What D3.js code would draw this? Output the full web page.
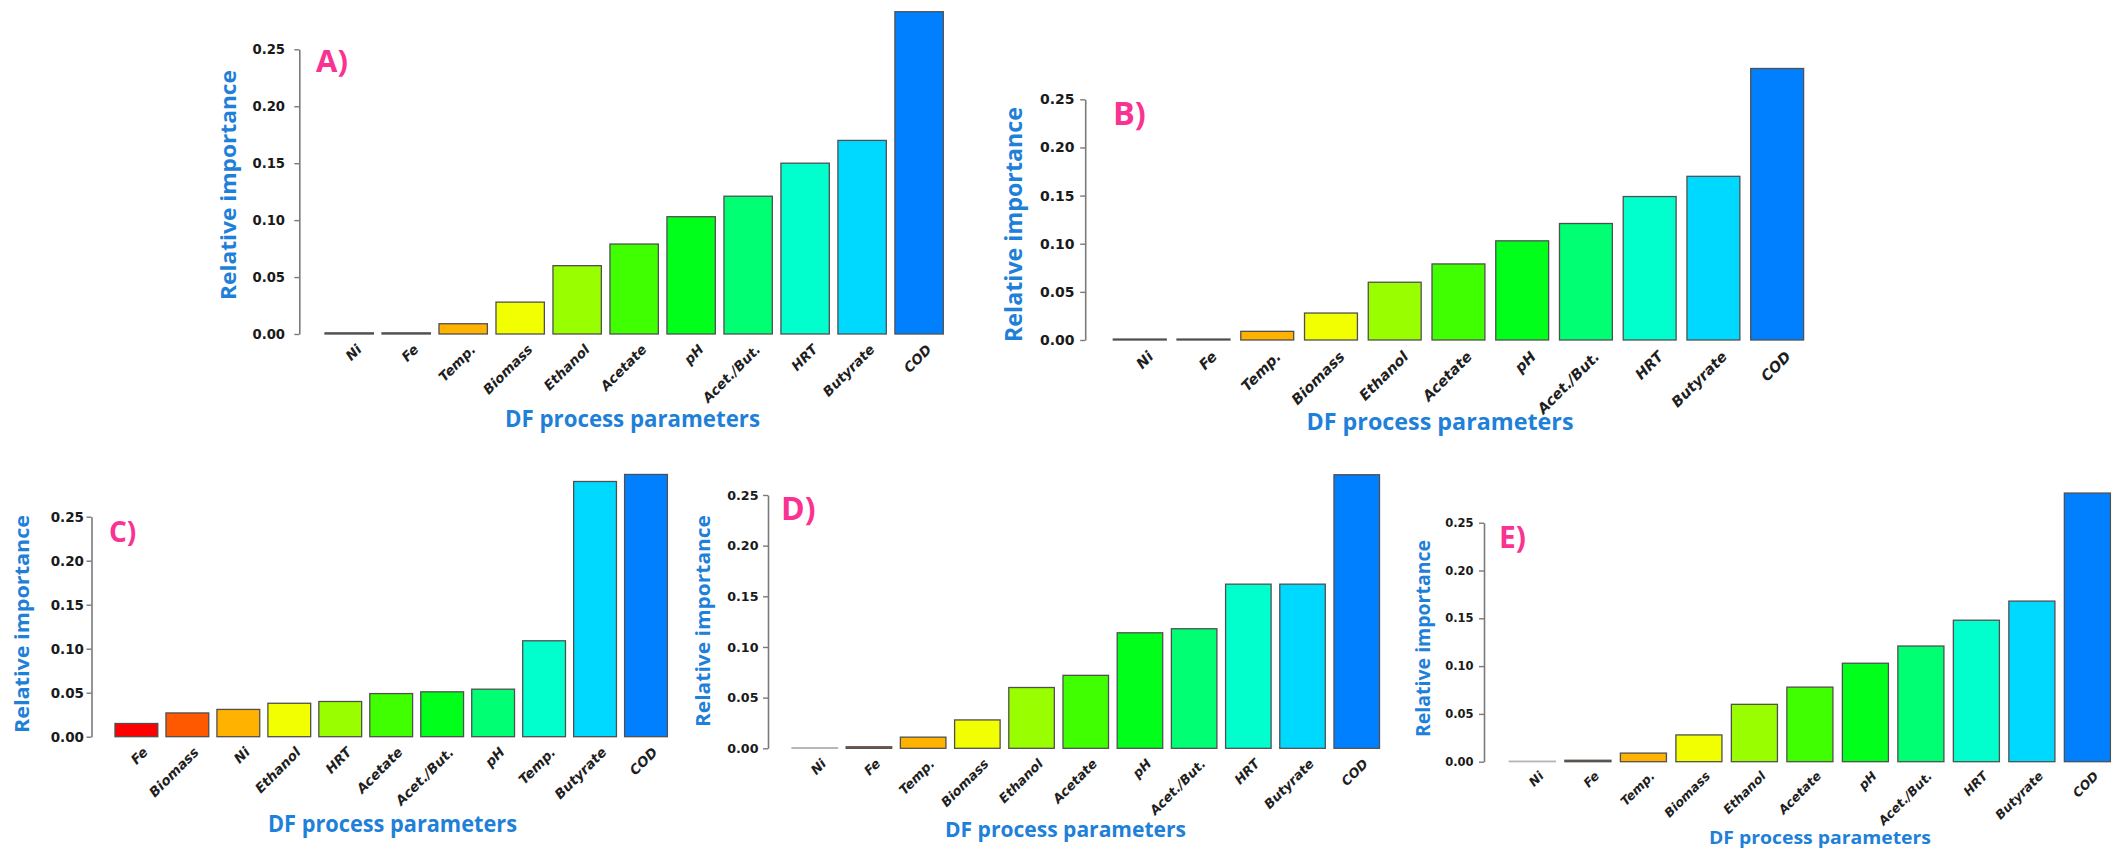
<!DOCTYPE html>
<html>
<head>
<meta charset="utf-8">
<script src="https://cdn.jsdelivr.net/npm/d3@7"></script>
<style>
  html, body { margin: 0; padding: 0; background: #ffffff; }
  svg { display: block; }
</style>
</head>
<body>
<svg id="fig" width="2121" height="852"></svg>
<script>
// Relative importance of dark-fermentation (DF) process parameters for five models, A) to E)

const paramsStd = ["Ni", "Fe", "Temp.", "Biomass", "Ethanol", "Acetate", "pH", "Acet./But.", "HRT", "Butyrate", "COD"];
const paramsC   = ["Fe", "Biomass", "Ni", "Ethanol", "HRT", "Acetate", "Acet./But.", "pH", "Temp.", "Butyrate", "COD"];

const valuesA = [0.001, 0.001, 0.009, 0.028, 0.060, 0.079, 0.103, 0.121, 0.150, 0.170, 0.283];
const valuesB = [0.001, 0.001, 0.009, 0.028, 0.060, 0.079, 0.103, 0.121, 0.149, 0.170, 0.282];
const valuesC = [0.015, 0.027, 0.031, 0.038, 0.040, 0.049, 0.051, 0.054, 0.109, 0.290, 0.298];
const valuesD = [0.000, 0.0015, 0.011, 0.028, 0.060, 0.072, 0.114, 0.118, 0.162, 0.162, 0.270];
const valuesE = [0.000, 0.0015, 0.009, 0.028, 0.060, 0.078, 0.103, 0.121, 0.148, 0.168, 0.281];

const yTicks = [0.00, 0.05, 0.10, 0.15, 0.20, 0.25];
const panelTags = ["A)", "B)", "C)", "D)", "E)"];
const xTitleText = "DF process parameters";
const yTitleText = "Relative importance";

// rank colours, lowest to highest importance
const rankColors = ["#ff0000", "#ff5900", "#ffb300", "#f2ff00", "#99ff00", "#40ff00",
                    "#00ff1a", "#00ff73", "#00ffcc", "#00d9ff", "#0080ff"];

const BLUE = "#1e80d8";
const PINK = "#fa3291";

const series = [
  { cats: paramsStd, vals: valuesA },
  { cats: paramsStd, vals: valuesB },
  { cats: paramsC,   vals: valuesC },
  { cats: paramsStd, vals: valuesD },
  { cats: paramsStd, vals: valuesE }
];

// placement of each panel on the page
const layout = [
  { barL: 325,    barR: 943.3,  pad: 0.151, axisX: 299.3,  y0: 334,   y25: 49.3,  tickR: 285,    tickFs: 13.2, labFs: 13.5, labDx: 10, labDy: 13,
    tagX: 316,  tagY: 71.7,  tagFs: 31,   yT: { x: 235.5, y: 185,   len: 230, fs: 21 }, xT: { x: 632.5,  y: 427.3, len: 255, fs: 23 } },
  { barL: 1113.3, barR: 1803.6, pad: 0.17,  axisX: 1085.2, y0: 340,   y25: 99.3,  tickR: 1074.6, tickFs: 14,   labFs: 14.5, labDx: 11, labDy: 14,
    tagX: 1113, tagY: 125,   tagFs: 32.5, yT: { x: 1022,  y: 224.5, len: 235, fs: 23 }, xT: { x: 1440,   y: 430,   len: 267, fs: 24 } },
  { barL: 115,    barR: 667.4,  pad: 0.16,  axisX: 91.5,   y0: 736.7, y25: 516.7, tickR: 84,     tickFs: 13.5, labFs: 13.5, labDx: 9,  labDy: 13,
    tagX: 109,  tagY: 541.7, tagFs: 28,   yT: { x: 29,    y: 624,   len: 218, fs: 20 }, xT: { x: 392.5,  y: 831.7, len: 249, fs: 23 } },
  { barL: 792,    barR: 1379.5, pad: 0.16,  axisX: 768,    y0: 748.3, y25: 495,   tickR: 758.5,  tickFs: 12.7, labFs: 13,   labDx: 9,  labDy: 13,
    tagX: 781,  tagY: 520,   tagFs: 32,   yT: { x: 709.5, y: 621,   len: 212, fs: 20 }, xT: { x: 1065.5, y: 836.7, len: 241, fs: 21 } },
  { barL: 1509.4, barR: 2110.4, pad: 0.17,  axisX: 1484,   y0: 761.7, y25: 522.7, tickR: 1473.6, tickFs: 11.5, labFs: 12.5, labDx: 9,  labDy: 12,
    tagX: 1499, tagY: 548.3, tagFs: 30,   yT: { x: 1430,  y: 638.5, len: 197, fs: 19 }, xT: { x: 1820,   y: 844,   len: 222, fs: 18 } }
];

const svg = d3.select("#fig");
svg.append("rect").attr("width", 2121).attr("height", 852).attr("fill", "#ffffff");

series.forEach((s, i) => {
  const L = layout[i];
  const g = svg.append("g").attr("class", "panel panel-" + i);

  const x = d3.scaleBand()
    .domain(s.cats)
    .range([L.barL, L.barR])
    .paddingInner(L.pad)
    .paddingOuter(0);

  const y = d3.scaleLinear()
    .domain([0, 0.25])
    .range([L.y0, L.y25]);

  const rows = s.cats.map((c, k) => ({ cat: c, val: s.vals[k], rank: k }));

  // bars (a zero value still shows its outline on the baseline)
  g.append("g").selectAll("rect")
    .data(rows)
    .join("rect")
    .attr("x", d => x(d.cat))
    .attr("width", x.bandwidth())
    .attr("y", d => Math.min(y(d.val), y(0) - 0.5))
    .attr("height", d => Math.max(y(0) - y(d.val), 0.5))
    .attr("fill", d => rankColors[d.rank])
    .attr("stroke", d => d.val === 0 ? "#b4b4b4" : "#505050")
    .attr("stroke-width", 1.3);

  // y axis
  const axis = d3.axisLeft(y)
    .tickValues(yTicks)
    .tickFormat(d3.format(".2f"))
    .tickSize(5)
    .tickSizeOuter(0)
    .tickPadding(L.axisX - 5 - L.tickR);

  const ag = g.append("g")
    .attr("transform", `translate(${L.axisX},0)`)
    .call(axis);
  ag.select(".domain").attr("stroke", "#7a7a7a").attr("stroke-width", 1.6);
  ag.selectAll(".tick line").attr("stroke", "#7a7a7a").attr("stroke-width", 1.4);
  ag.selectAll(".tick text")
    .attr("fill", "#1a1a1a")
    .attr("font-family", "'DejaVu Sans', sans-serif")
    .attr("font-weight", "bold")
    .attr("font-size", L.tickFs);

  // slanted category labels
  g.append("g").selectAll("text")
    .data(rows)
    .join("text")
    .attr("transform", d => `translate(${x(d.cat) + x.bandwidth() / 2 + L.labDx},${L.y0 + L.labDy}) rotate(-45)`)
    .attr("text-anchor", "end")
    .attr("dy", "0.35em")
    .attr("fill", "#1e1e1e")
    .attr("font-family", "'DejaVu Sans', sans-serif")
    .attr("font-weight", "bold")
    .attr("font-style", "italic")
    .attr("font-size", L.labFs)
    .text(d => d.cat);

  // panel tag
  g.append("text")
    .attr("x", L.tagX)
    .attr("y", L.tagY)
    .attr("fill", PINK)
    .attr("font-family", "'Open Sans', sans-serif")
    .attr("font-weight", "bold")
    .attr("font-size", L.tagFs)
    .text(panelTags[i]);

  // axis titles
  g.append("text")
    .attr("transform", `translate(${L.yT.x},${L.yT.y}) rotate(-90)`)
    .attr("text-anchor", "middle")
    .attr("fill", BLUE)
    .attr("font-family", "'Open Sans', sans-serif")
    .attr("font-weight", "bold")
    .attr("font-size", L.yT.fs)
    .attr("textLength", L.yT.len)
    .attr("lengthAdjust", "spacingAndGlyphs")
    .text(yTitleText);

  g.append("text")
    .attr("x", L.xT.x)
    .attr("y", L.xT.y)
    .attr("text-anchor", "middle")
    .attr("fill", BLUE)
    .attr("font-family", "'Open Sans', sans-serif")
    .attr("font-weight", "bold")
    .attr("font-size", L.xT.fs)
    .attr("textLength", L.xT.len)
    .attr("lengthAdjust", "spacingAndGlyphs")
    .text(xTitleText);
});
</script>
</body>
</html>
